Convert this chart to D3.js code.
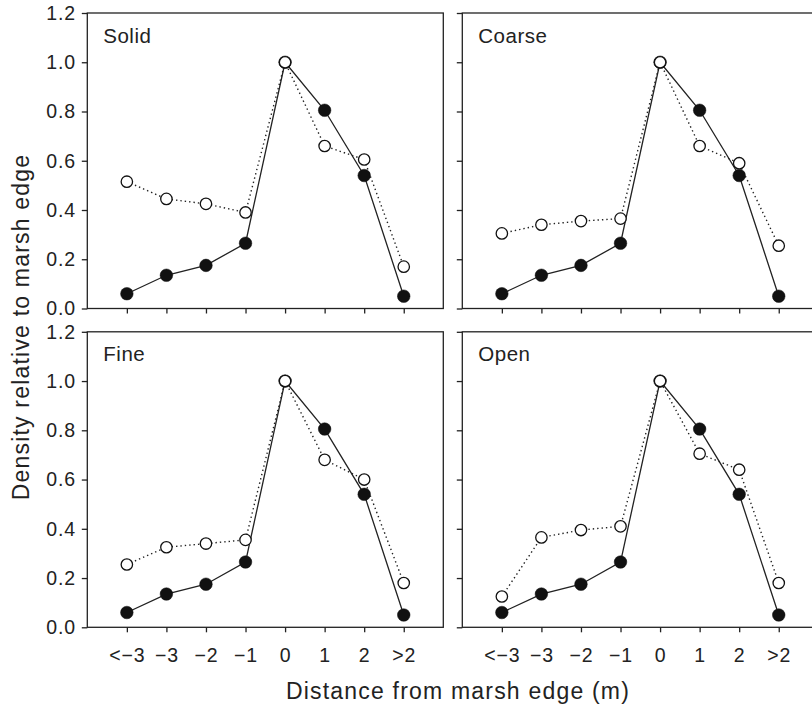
<!DOCTYPE html>
<html>
<head>
<meta charset="utf-8">
<script src="https://cdn.jsdelivr.net/npm/d3@7"></script>
<style>
  html, body { margin: 0; padding: 0; background: #fff; }
  svg { display: block; }
  text { font-family: "Liberation Sans", Arial, Helvetica, sans-serif; fill: #222; }
</style>
</head>
<body>
<svg id="chart" width="812" height="707"></svg>
<script>
// Distance classes from the marsh edge (m)
const categories = ["<\u22123", "\u22123", "\u22122", "\u22121", "0", "1", "2", ">2"];
const yTicks = [0, 0.2, 0.4, 0.6, 0.8, 1.0, 1.2];
const panelNames = ["Solid", "Coarse", "Fine", "Open"];

// Filled circles: same reference profile in every panel
const filledSeries = [0.06, 0.135, 0.175, 0.265, 1.0, 0.805, 0.54, 0.05];

// Open circles: one profile per structure type
const openSolid  = [0.515, 0.445, 0.425, 0.39, 1.0, 0.66, 0.605, 0.17];
const openCoarse = [0.305, 0.34, 0.355, 0.365, 1.0, 0.66, 0.59, 0.255];
const openFine   = [0.255, 0.325, 0.34, 0.355, 1.0, 0.68, 0.60, 0.18];
const openOpen   = [0.125, 0.365, 0.395, 0.41, 1.0, 0.705, 0.64, 0.18];
const openSeries = [openSolid, openCoarse, openFine, openOpen];

const ink = "#222";
const svg = d3.select("#chart");

const panelW = 356, panelH = 295.5;
const colX = [87.3, 462.3];
const rowY = [13, 331.8];

const x = d3.scaleLinear().domain([-1, categories.length]).range([0, panelW]);
const y = d3.scaleLinear().domain([0, 1.2]).range([panelH, 0]);

const line = d3.line()
  .x((d, i) => x(i))
  .y(d => y(d));

panelNames.forEach((name, p) => {
  const col = p % 2, row = Math.floor(p / 2);
  const g = svg.append("g").attr("transform", `translate(${colX[col]},${rowY[row]})`);

  // frame
  g.append("rect")
    .attr("x", 0).attr("y", 0)
    .attr("width", panelW).attr("height", panelH)
    .attr("fill", "none").attr("stroke", ink).attr("stroke-width", 1.3);

  // left axis
  const yAxis = d3.axisLeft(y).tickValues(yTicks).tickSize(5.5).tickPadding(6)
    .tickFormat(col === 0 ? d3.format(".1f") : () => "");
  const ya = g.append("g").call(yAxis);
  ya.select(".domain").remove();
  ya.selectAll(".tick line").attr("stroke", ink).attr("stroke-width", 1.3);
  ya.selectAll(".tick text")
    .style("font-size", "19.5px").style("letter-spacing", "0.8px").attr("fill", ink);

  // bottom axis
  const xAxis = d3.axisBottom(x).tickValues(d3.range(categories.length)).tickSize(5).tickPadding(16)
    .tickFormat(row === 1 ? (i => categories[i]) : () => "");
  const xa = g.append("g").attr("transform", `translate(0,${panelH})`).call(xAxis);
  xa.select(".domain").remove();
  xa.selectAll(".tick line").attr("stroke", ink).attr("stroke-width", 1.3);
  xa.selectAll(".tick text")
    .style("font-size", "19.5px").style("letter-spacing", "0.8px").attr("fill", ink);

  // panel label
  g.append("text")
    .attr("x", 16).attr("y", 29.5)
    .style("font-size", "20.5px").style("letter-spacing", "0.5px")
    .text(name);

  // lines
  g.append("path").datum(filledSeries)
    .attr("d", line).attr("fill", "none")
    .attr("stroke", ink).attr("stroke-width", 1.3);
  g.append("path").datum(openSeries[p])
    .attr("d", line).attr("fill", "none")
    .attr("stroke", ink).attr("stroke-width", 1.4)
    .attr("stroke-dasharray", "1.4,3");

  // markers
  g.selectAll("circle.filled").data(filledSeries).join("circle")
    .attr("class", "filled")
    .attr("cx", (d, i) => x(i)).attr("cy", d => y(d))
    .attr("r", 6.3).attr("fill", "#111").attr("stroke", "#111").attr("stroke-width", 0.5);
  g.selectAll("circle.open").data(openSeries[p]).join("circle")
    .attr("class", "open")
    .attr("cx", (d, i) => x(i)).attr("cy", d => y(d))
    .attr("r", 5.7).attr("fill", "#fff").attr("stroke", "#111").attr("stroke-width", 1.3);
});

// axis titles
svg.append("text")
  .attr("x", 458).attr("y", 699)
  .attr("text-anchor", "middle")
  .style("font-size", "23px").style("letter-spacing", "1.2px")
  .text("Distance from marsh edge (m)");

svg.append("text")
  .attr("transform", "translate(28.5,327) rotate(-90)")
  .attr("text-anchor", "middle")
  .style("font-size", "23px").style("letter-spacing", "1.2px")
  .text("Density relative to marsh edge");
</script>
</body>
</html>
